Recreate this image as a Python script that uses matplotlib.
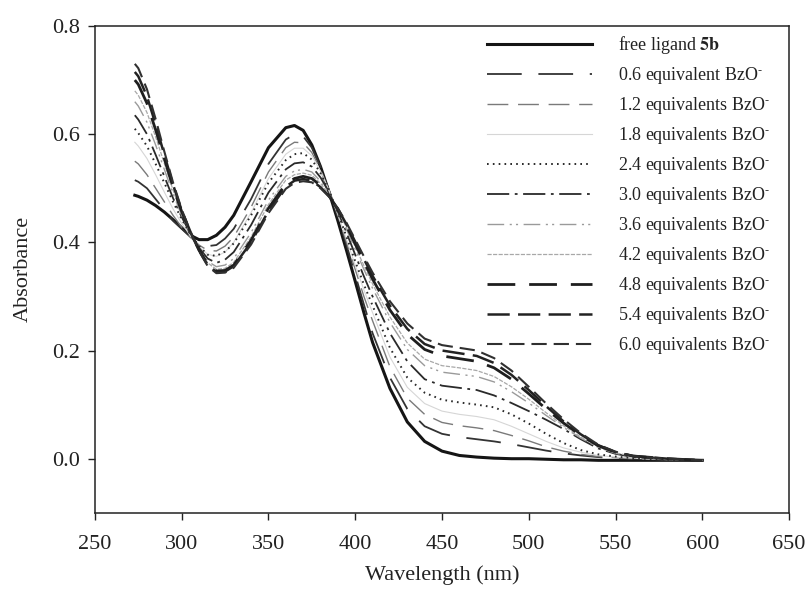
import numpy as np
import matplotlib
matplotlib.use("Agg")
import matplotlib.pyplot as plt

plt.rcParams['font.family'] = ['Liberation Serif', 'DejaVu Serif']
plt.rcParams['mathtext.fontset'] = 'stix'
plt.rcParams['lines.scale_dashes'] = False

# wavelength grid (nm)
wavelength = [273, 275, 280, 285, 290, 295, 300, 305, 310, 315, 320, 325, 330,
              340, 350, 360, 365, 370, 375, 380, 385, 390, 395, 400, 405, 410,
              420, 430, 440, 450, 460, 470, 480, 490, 500, 510, 520, 530, 540,
              550, 560, 580, 600]

# absorbance values
free_ligand = [.487, .485, .478, .468, .456, .442, .427, .413, .405, .405, .413, .428, .450,
               .512, .575, .612, .616, .607, .580, .540, .492, .440, .385, .328, .270, .215,
               .130, .068, .032, .014, .006, .003, .001, 0, 0, -.001, -.002, -.002, -.003,
               -.003, -.003, -.003, -.003]
eq_06 = [.515, .512, .500, .480, .460, .440, .425, .410, .398, .393, .395, .407, .425,
         .480, .545, .590, .600, .596, .575, .540, .495, .447, .395, .340, .285, .232,
         .150, .092, .060, .046, .040, .036, .032, .027, .021, .015, .010, .006, .003,
         .001, 0, -.002, -.003]
eq_12 = [.550, .545, .525, .500, .475, .450, .428, .410, .395, .385, .384, .393, .410,
         .465, .530, .575, .585, .584, .566, .535, .495, .450, .400, .350, .300, .255,
         .170, .112, .082, .067, .061, .057, .052, .043, .033, .022, .014, .008, .004,
         .002, 0, -.002, -.003]
eq_18 = [.585, .578, .555, .525, .493, .462, .435, .412, .392, .378, .374, .382, .400,
         .455, .518, .563, .574, .574, .560, .532, .495, .452, .405, .358, .312, .270,
         .188, .132, .102, .088, .082, .078, .072, .060, .046, .032, .020, .012, .006,
         .003, .001, -.002, -.003]
eq_24 = [.610, .602, .578, .545, .510, .475, .443, .415, .393, .377, .375, .383, .398,
         .450, .510, .552, .563, .565, .553, .528, .495, .455, .410, .365, .322, .283,
         .205, .150, .122, .109, .104, .100, .095, .082, .065, .046, .029, .016, .008,
         .004, .001, -.002, -.003]
eq_30 = [.635, .627, .600, .562, .522, .482, .447, .416, .390, .370, .362, .368, .382,
         .432, .492, .535, .546, .548, .540, .520, .492, .457, .418, .377, .337, .300,
         .232, .180, .147, .135, .131, .127, .117, .103, .088, .072, .055, .036, .019,
         .009, .003, -.001, -.003]
eq_36 = [.660, .652, .622, .580, .535, .490, .450, .417, .388, .365, .355, .358, .370,
         .418, .478, .522, .532, .535, .530, .513, .490, .459, .424, .387, .350, .315,
         .252, .202, .172, .160, .156, .152, .142, .124, .103, .080, .058, .038, .021,
         .010, .004, 0, -.003]
eq_42 = [.680, .672, .640, .595, .546, .497, .454, .418, .387, .362, .350, .352, .363,
         .410, .470, .515, .525, .528, .524, .509, .488, .460, .427, .392, .357, .323,
         .262, .214, .184, .172, .168, .163, .152, .133, .110, .085, .061, .040, .022,
         .011, .004, 0, -.003]
eq_48 = [.700, .692, .657, .608, .555, .502, .457, .419, .386, .360, .347, .348, .358,
         .404, .463, .508, .518, .522, .518, .505, .486, .461, .430, .397, .364, .332,
         .275, .230, .202, .190, .185, .180, .168, .147, .120, .092, .066, .043, .024,
         .012, .005, 0, -.003]
eq_54 = [.715, .707, .670, .618, .562, .507, .459, .420, .385, .358, .345, .346, .356,
         .400, .458, .503, .514, .517, .514, .502, .485, .462, .433, .401, .369, .338,
         .283, .240, .212, .200, .195, .190, .177, .155, .127, .097, .069, .045, .025,
         .012, .005, 0, -.003]
eq_60 = [.730, .722, .683, .628, .568, .511, .461, .420, .384, .356, .343, .344, .353,
         .396, .454, .499, .510, .513, .511, .500, .484, .463, .436, .405, .374, .344,
         .291, .250, .222, .210, .205, .200, .186, .163, .133, .102, .073, .047, .026,
         .013, .005, 0, -.003]

labels = [r'free ligand $\mathbf{5b}$',
          r'0.6 equivalent BzO$^{\text{-}}$',
          r'1.2 equivalents BzO$^{\text{-}}$',
          r'1.8 equivalents BzO$^{\text{-}}$',
          r'2.4 equivalents BzO$^{\text{-}}$',
          r'3.0 equivalents BzO$^{\text{-}}$',
          r'3.6 equivalents BzO$^{\text{-}}$',
          r'4.2 equivalents BzO$^{\text{-}}$',
          r'4.8 equivalents BzO$^{\text{-}}$',
          r'5.4 equivalents BzO$^{\text{-}}$',
          r'6.0 equivalents BzO$^{\text{-}}$']

series = [free_ligand, eq_06, eq_12, eq_18, eq_24, eq_30,
          eq_36, eq_42, eq_48, eq_54, eq_60]

# (dash pattern, linewidth, colour)
styles = [
    ('-', 2.2, '#151515'),
    ((0, (25, 12)), 1.3, '#333333'),
    ((0, (15, 7)), 1.0, '#7a7a7a'),
    ('-', 0.8, '#d6d6d6'),
    ((0, (1.2, 3.0)), 1.4, '#2a2a2a'),
    ((0, (16, 4, 2, 4)), 1.3, '#2a2a2a'),
    ((0, (12, 4, 1.5, 3, 1.5, 4)), 1.0, '#9a9a9a'),
    ((0, (3, 1)), 0.9, '#a8a8a8'),
    ((0, (20, 10)), 2.0, '#1e1e1e'),
    ((0, (16, 6)), 1.8, '#222222'),
    ((0, (11, 5)), 1.5, '#303030'),
]

fig = plt.figure(figsize=(8.11, 6.04), dpi=100)
ax = fig.add_axes([0.117, 0.151, 0.856, 0.806])

for ys, lab, (ls, lw, col) in zip(series, labels, styles):
    ax.plot(wavelength, ys, color=col, lw=lw, ls=ls, label=lab)

ax.set_xlim(250, 650)
ax.set_ylim(-0.1, 0.8)
ax.set_xticks(np.arange(250, 651, 50))
ax.set_yticks([0.0, 0.2, 0.4, 0.6, 0.8])
ax.set_yticklabels(['0.0', '0.2', '0.4', '0.6', '0.8'])
ax.tick_params(direction='out', length=5, width=1, labelsize=16, colors='#222222')
ax.tick_params(axis='x', pad=11)
ax.tick_params(axis='y', pad=6)
for sp in ax.spines.values():
    sp.set_linewidth(1.1)
    sp.set_color('#222222')

ax.set_xlabel('Wavelength (nm)', fontsize=16, labelpad=8, color='#222222')
ax.set_ylabel('Absorbance', fontsize=16, labelpad=14, color='#222222')

leg = ax.legend(loc='upper left', bbox_to_anchor=(487 / 811, 1 - 34 / 604),
                bbox_transform=fig.transFigure, frameon=False, fontsize=13,
                handlelength=5.8, handletextpad=1.45, labelspacing=0.5,
                borderpad=0, borderaxespad=0)
for t in leg.get_texts():
    t.set_color('#222222')

fig.savefig('out.png', dpi=100)
